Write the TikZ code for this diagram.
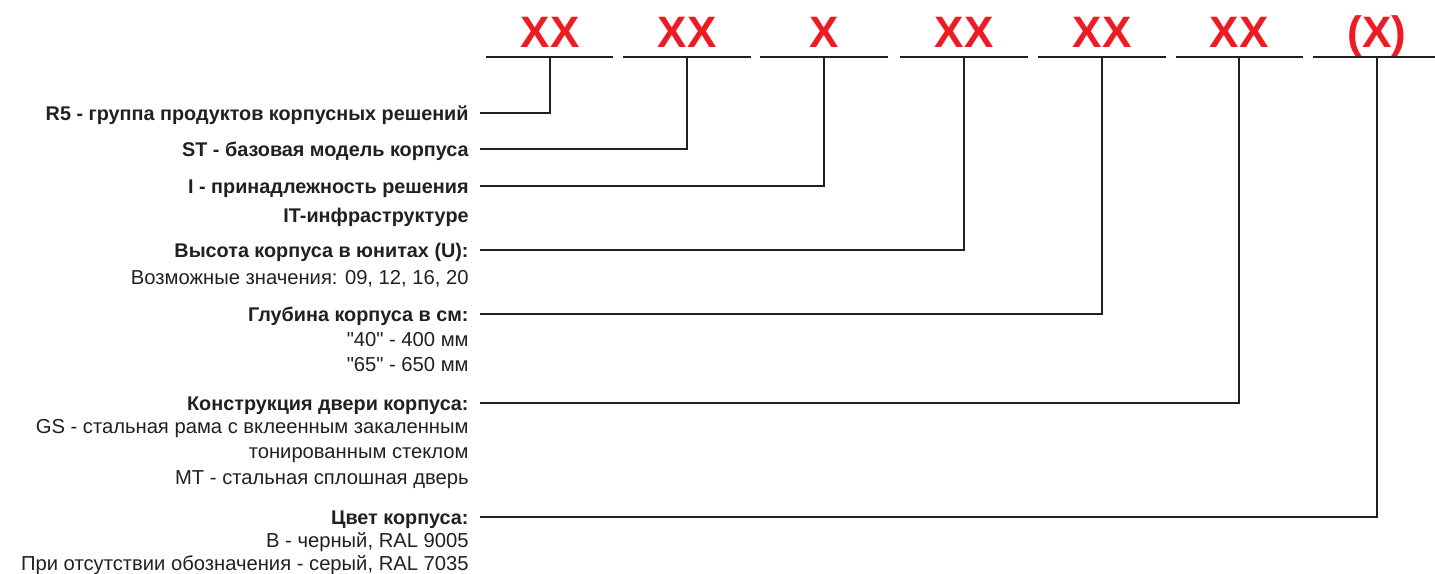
\documentclass[tikz,border=0pt]{standalone}
\usepackage{fontspec}
\setmainfont{Liberation Sans}[Ligatures=TeXOff]
\definecolor{codered}{RGB}{237,28,36}
\definecolor{ink}{RGB}{35,31,32}
\begin{document}
\begin{tikzpicture}[x=0.5pt,y=-0.5pt,
  seg/.style={line width=1.3pt, draw=ink},
  conn/.style={line width=1.3pt, draw=ink},
  code/.style={text=codered, font=\fontsize{22}{24}\selectfont\bfseries, anchor=base, inner sep=0pt},
  head/.style={font=\fontsize{9.9}{12}\selectfont\bfseries, text=ink, anchor=east, inner xsep=5.5pt, inner ysep=0pt, text height=7pt, text depth=0pt},
  desc/.style={font=\fontsize{10.1}{12}\selectfont, text=ink, anchor=base east, inner sep=0pt},
  descb/.style={desc, font=\fontsize{9.9}{12}\selectfont\bfseries}]
\useasboundingbox (0,0) rectangle (1435,573);
% top segments
\draw[seg] (486,57) -- (613,57);
\draw[seg] (623,57) -- (751,57);
\draw[seg] (760,57) -- (888,57);
\draw[seg] (900,57) -- (1028,57);
\draw[seg] (1038,57) -- (1166,57);
\draw[seg] (1176,57) -- (1303,57);
\draw[seg] (1313,57) -- (1435,57);
\coordinate (b1) at (550,57);
\coordinate (b2) at (687,57);
\coordinate (b3) at (824,57);
\coordinate (b4) at (964,57);
\coordinate (b5) at (1102,57);
\coordinate (b6) at (1239,57);
\coordinate (b7) at (1377,57);
% red codes
\node[code] (c1) at (550,47) {XX};
\node[code] (c2) at (687,47) {XX};
\node[code] (c3) at (824,47) {X};
\node[code] (c4) at (964,47) {XX};
\node[code] (c5) at (1102,47) {XX};
\node[code] (c6) at (1239,47) {XX};
\node[code] (c7) at (1377,47) {(X)};
% headers
\node[head] (h1) at (480,113) {R5 - группа продуктов корпусных решений};
\node[head] (h2) at (480,149) {ST - базовая модель корпуса};
\node[head] (h3) at (480,186) {I - принадлежность решения};
\node[descb] (d3a) at (469,222) {IT-инфраструктуре};
\node[head] (h4) at (480,250) {Высота корпуса в юнитах (U):};
\node[desc] (d4a) at (469,284) {Возможные значения: 09, 12, 16, 20};
\node[head] (h5) at (480,314) {Глубина корпуса в см:};
\node[desc] (d5a) at (469,346) {"40" - 400 мм};
\node[desc] (d5b) at (469,371) {"65" - 650 мм};
\node[head] (h6) at (480,403) {Конструкция двери корпуса:};
\node[desc] (d6a) at (469,433) {GS - стальная рама с вклеенным закаленным};
\node[desc] (d6b) at (469,458.5) {тонированным стеклом};
\node[desc] (d6c) at (469,484) {MT - стальная сплошная дверь};
\node[head] (h7) at (480,517) {Цвет корпуса:};
\node[desc] (d7a) at (469,547.5) {B - черный, RAL 9005};
\node[desc] (d7b) at (469,570) {При отсутствии обозначения - серый, RAL 7035};
% connectors
\draw[conn] (h1.east) -| (b1);
\draw[conn] (h2.east) -| (b2);
\draw[conn] (h3.east) -| (b3);
\draw[conn] (h4.east) -| (b4);
\draw[conn] (h5.east) -| (b5);
\draw[conn] (h6.east) -| (b6);
\draw[conn] (h7.east) -| (b7);
\end{tikzpicture}
\end{document}
